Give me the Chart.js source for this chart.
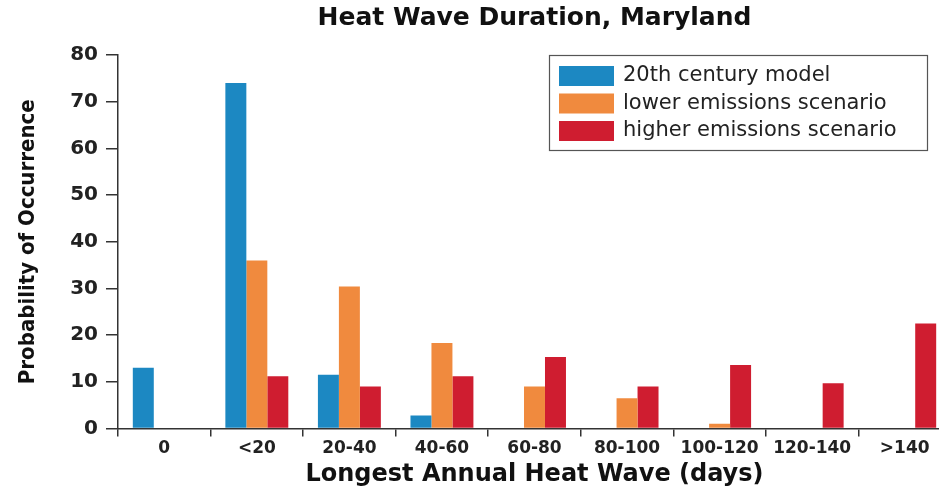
<!DOCTYPE html>
<html>
<head>
<meta charset="utf-8">
<script src="https://cdn.jsdelivr.net/npm/chart.js@4/dist/chart.umd.min.js"></script>
<style>
  html, body { margin: 0; padding: 0; overflow: hidden; background: #fff; }
  #wrap { width: 939px; height: 491px; overflow: hidden; }
  /* canvas is a bit wider than the window: the source figure is cropped at the right */
  #c { display: block; }
</style>
</head>
<body>
<div id="wrap"><canvas id="c" width="955" height="491"></canvas></div>
<script>
// ---- data (probability of occurrence, %)
const categories = ["0", "<20", "20-40", "40-60", "60-80", "80-100", "100-120", "120-140", ">140"];
const century20 = [13, 74, 11.5, 2.8, 0, 0, 0, 0, 0];
const lowerEmis = [0, 36, 30.4, 18.3, 9, 6.5, 1, 0, 0];
const higherEmis = [0, 11.2, 9, 11.2, 15.3, 9, 13.6, 9.7, 22.5];
const yTicks = [0, 10, 20, 30, 40, 50, 60, 70, 80];

const BLUE = "#1c88c2", ORANGE = "#f08a3e", RED = "#cf1d30", AXIS = "#333";
const FONT = "'DejaVu Sans', sans-serif";

// legend drawn as a boxed panel inside the plot, like the original
const boxLegend = {
  id: "boxLegend",
  afterDraw(chart) {
    const ctx = chart.ctx;
    ctx.save();
    ctx.fillStyle = "#fff";
    ctx.fillRect(549.5, 55.5, 378, 95);
    ctx.strokeStyle = "#555";
    ctx.lineWidth = 1.2;
    ctx.strokeRect(549.5, 55.5, 378, 95);
    ctx.font = "21px " + FONT;
    ctx.textBaseline = "middle";
    chart.data.datasets.forEach((ds, i) => {
      const y = 66 + i * 27.5;
      ctx.fillStyle = ds.backgroundColor;
      ctx.fillRect(559, y, 55, 20);
      ctx.fillStyle = "#222";
      ctx.fillText(ds.label, 623, y + 10);
    });
    ctx.restore();
  },
};

new Chart(document.getElementById("c"), {
  type: "bar",
  data: {
    labels: categories,
    datasets: [
      { label: "20th century model", data: century20, backgroundColor: BLUE },
      { label: "lower emissions scenario", data: lowerEmis, backgroundColor: ORANGE },
      { label: "higher emissions scenario", data: higherEmis, backgroundColor: RED },
    ],
  },
  options: {
    responsive: false,
    animation: false,
    layout: { padding: { left: 0, right: 4, top: 0, bottom: 0 } },
    datasets: { bar: { categoryPercentage: 0.68, barPercentage: 1.0 } },
    plugins: {
      legend: { display: false },
      tooltip: { enabled: false },
      title: {
        display: true, fullSize: false,
        text: "Heat Wave Duration, Maryland",
        color: "#111",
        font: { family: FONT, size: 25, weight: "bold" },
        padding: { top: 3, bottom: 22 },
      },
    },
    scales: {
      x: {
        grid: { display: true, offset: true, drawOnChartArea: false, tickLength: 8, color: AXIS, lineWidth: 1.5 },
        border: { display: true, color: AXIS, width: 1.5 },
        ticks: { color: "#222", padding: 2, font: { family: FONT, size: 17, weight: "bold" } },
        title: {
          display: true, text: "Longest Annual Heat Wave (days)", color: "#111",
          font: { family: FONT, size: 24, weight: "bold" },
          padding: { top: 4, bottom: 2 },
        },
        afterFit(s) { s.height = 62.5; },
      },
      y: {
        min: 0, max: 80,
        afterBuildTicks(s) { s.ticks = yTicks.map(v => ({ value: v })); },
        grid: { display: true, drawOnChartArea: false, tickLength: 12, color: AXIS, lineWidth: 1.5 },
        border: { display: true, color: AXIS, width: 1.5 },
        ticks: { color: "#222", padding: 8, font: { family: FONT, size: 20, weight: "bold" } },
        title: {
          display: true, text: "Probability of Occurrence", color: "#111",
          font: { family: "'Liberation Sans Narrow', 'DejaVu Sans Condensed', sans-serif", size: 22, weight: "bold" },
          padding: { top: 15, bottom: 0 },
        },
        afterFit(s) { s.width = 118; },
      },
    },
  },
  plugins: [boxLegend],
});
</script>
</body>
</html>
